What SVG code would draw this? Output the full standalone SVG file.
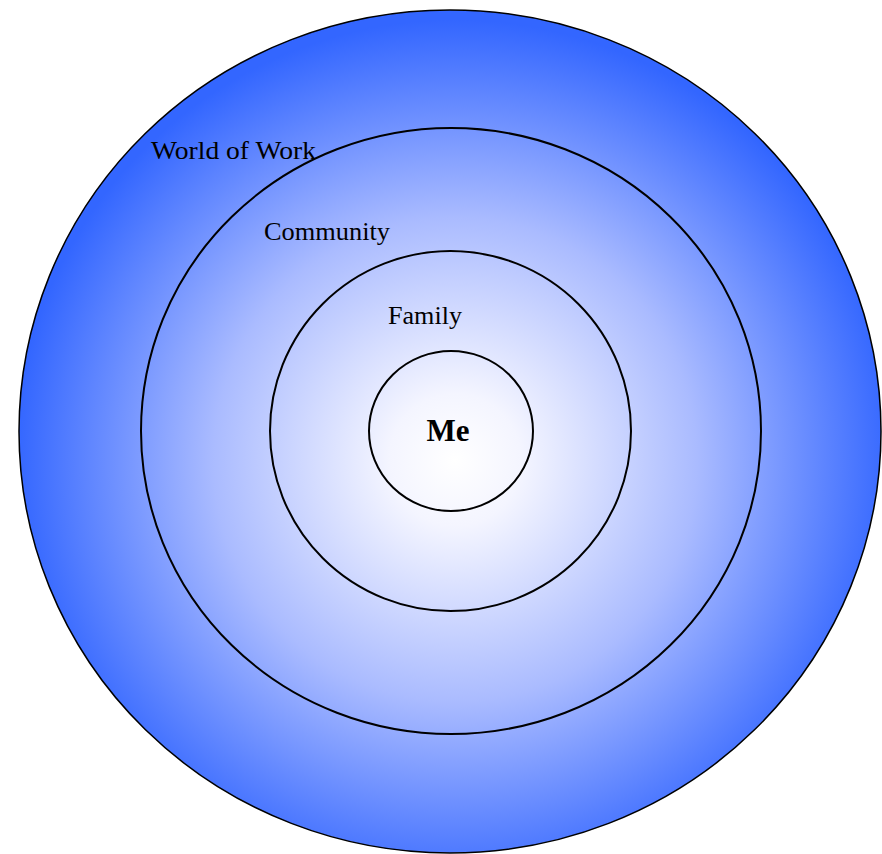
<svg xmlns="http://www.w3.org/2000/svg" width="882" height="854" viewBox="0 0 882 854">
<defs>
<radialGradient id="g" gradientUnits="userSpaceOnUse" cx="455" cy="460" r="440" fx="455" fy="460">
<stop offset="0" stop-color="#ffffff"/>
<stop offset="0.15" stop-color="#f4f5ff"/>
<stop offset="0.55" stop-color="#aabbff"/>
<stop offset="1" stop-color="#3366ff"/>
</radialGradient>
<style>
.ring{fill:none;stroke:#000;stroke-width:2}
.lbl{font-family:"Liberation Serif",serif;font-size:26px;fill:#000}
</style>
</defs>
<g id="world">
<ellipse cx="450" cy="431.5" rx="431" ry="421.5" fill="url(#g)" stroke="#000" stroke-width="1.5"/>
<text class="lbl" x="151" y="159" textLength="165" lengthAdjust="spacingAndGlyphs">World of Work</text>
</g>
<g id="community">
<ellipse class="ring" cx="451" cy="431" rx="310" ry="303"/>
<text class="lbl" x="264" y="240" textLength="126" lengthAdjust="spacingAndGlyphs">Community</text>
</g>
<g id="family">
<ellipse class="ring" cx="450.5" cy="431" rx="180.5" ry="180"/>
<text class="lbl" x="388" y="324" textLength="74" lengthAdjust="spacingAndGlyphs">Family</text>
</g>
<g id="me">
<ellipse class="ring" cx="451" cy="431" rx="82" ry="80"/>
<text x="448" y="441" text-anchor="middle" font-family="Liberation Serif,serif" font-weight="bold" font-size="31">Me</text>
</g>
<g id="connectors"/>
</svg>
